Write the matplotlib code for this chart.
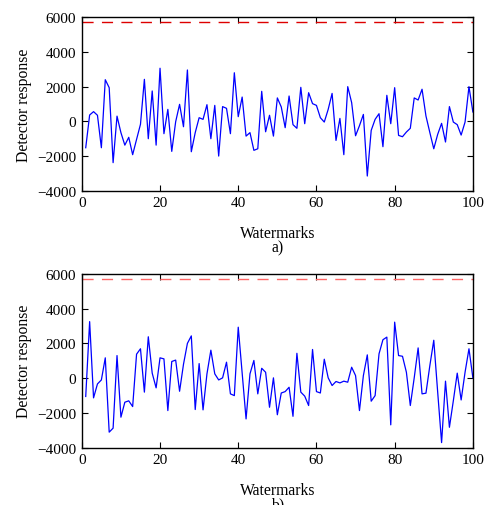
import matplotlib
matplotlib.use('Agg')
import matplotlib.pyplot as plt
import numpy as np

plt.rcParams['font.family'] = ['Liberation Serif', 'DejaVu Serif']
plt.rcParams['axes.unicode_minus'] = True

# watermark index
marks = np.arange(1, 101)

# detector response, original image (a)
resp_a = [-1520, 365, 560, 350, -1520, 2400, 1940, -2380, 300, -650,
          -1370, -920, -1920, -1040, -170, 2420, -1000, 1750, -1370, 3060,
          -710, 690, -1730, -20, 980, -310, 2960, -1750, -650, 210,
          115, 960, -1000, 920, -2000, 850, 750, -710, 2800, 270,
          1400, -850, -650, -1670, -1580, 1730, -600, 350, -850, 1350,
          830, -365, 1460, -190, -400, 1960, -135, 1650, 1020, 920,
          210, -40, 690, 1610, -1100, 170, -1920, 2000, 1080, -830,
          -250, 400, -3150, -520, 115, 440, -1460, 1500, -135, 1940,
          -810, -885, -615, -400, 1350, 1230, 1850, 310, -650, -1580,
          -750, -115, -1190, 850, -40, -190, -790, -40, 2000, 540]

# detector response, attacked image (b)
resp_b = [-1050, 3250, -1130, -330, -100, 1170, -3100, -2870, 1300, -2240,
          -1380, -1300, -1630, 1380, 1690, -800, 2380, 290, -555, 1170,
          1110, -1860, 960, 1040, -750, 800, 2000, 2430, -1800, 840,
          -1820, 250, 1610, 250, -100, 20, 920, -900, -1000, 2930,
          300, -2340, 250, 1020, -900, 570, 340, -1670, 20, -2100,
          -850, -770, -520, -2190, 1430, -800, -1030, -1570, 1650, -770,
          -850, 1090, 20, -420, -190, -270, -170, -230, 630, 150,
          -1860, 150, 1340, -1320, -1000, 1400, 2210, 2360, -2680, 3220,
          1300, 1260, 340, -1570, 20, 1740, -900, -860, 730, 2180,
          -800, -3700, -170, -2820, -1300, 290, -1250, 340, 1690, 20]

threshold = 5700

fig = plt.figure(figsize=(4.87, 5.06), dpi=100)
ax1 = fig.add_axes([0.168, 0.621, 0.803, 0.343])
ax2 = fig.add_axes([0.168, 0.113, 0.803, 0.344])

for ax, resp, tcol, tag in [(ax1, resp_a, '#dd0000', 'a)'),
                            (ax2, resp_b, '#ff6666', 'b)')]:
    ax.plot(marks, resp, color='blue', lw=0.9)
    ax.axhline(threshold, color=tcol, lw=1.0, ls=(0, (8, 6)))
    ax.set_xlim(0, 100)
    ax.set_ylim(-4000, 6000)
    ax.set_xticks([0, 20, 40, 60, 80, 100])
    ax.set_yticks([-4000, -2000, 0, 2000, 4000, 6000])
    ax.tick_params(direction='in', top=True, right=True, labelsize=11, length=4, pad=4)
    for s in ax.spines.values():
        s.set_linewidth(1.0)
    ax.set_ylabel('Detector response', fontsize=11.3, labelpad=4)
    ax.set_xlabel('Watermarks', fontsize=11.3, labelpad=11)
    ax.annotate(tag, xy=(0.5, 0), xycoords='axes fraction', xytext=(0, -41),
                textcoords='offset points', ha='center', va='center', fontsize=11.3)

fig.savefig('out.png', dpi=100)
